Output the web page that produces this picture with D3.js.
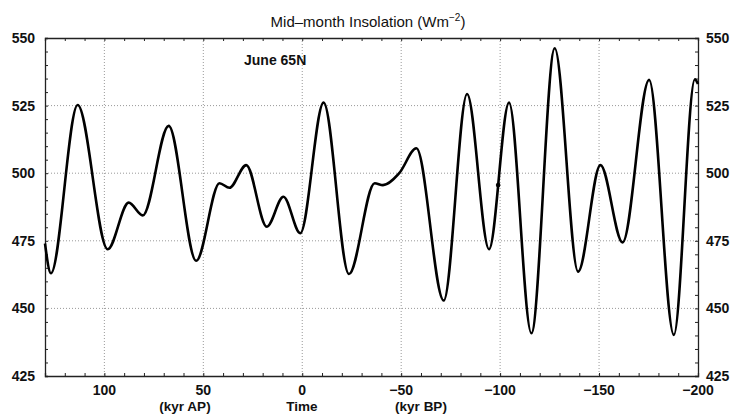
<!DOCTYPE html>
<html>
<head>
<meta charset="utf-8">
<script src="https://cdn.jsdelivr.net/npm/d3@7"></script>
<style>
  body { margin: 0; background: #fff; }
  text { font-family: "Liberation Sans", Arial, sans-serif; fill: #111; font-weight: bold; }
</style>
</head>
<body>
<div id="chart"></div>
<script>
const width = 732;
const height = 414;
const margin = { top: 38, right: 34, bottom: 38, left: 45 };

// time in kyr (positive = after present, negative = before present)
const kyr = [130, 127, 113.5, 98.3, 87.7, 80.6, 67.5, 53.6, 41.8, 36.8, 28.3, 17.9, 9.5, 1,
    -10.8, -23.6, -36.6, -40.8, -49, -57.7, -71.5, -83.3, -94.4, -104.5, -115.8, -127.6,
    -139.4, -150.7, -161.9, -175.3, -187.8, -198.4, -200];
// June 65N mid-month insolation (W m-2)
const insolation = [474, 463, 525.2, 471.9, 489.1, 484.4, 517.5, 467.6, 496.3, 494.6, 503, 480.2, 491.3, 477.8,
    526.1, 462.7, 496.3, 495.6, 500, 509.2, 452.9, 529.3, 471.9, 526.1, 440.8, 546.2,
    463.6, 503, 474.4, 534.5, 440.2, 534.7, 533];
// stray dot on the curve
const dotKyr = [-99];
const dotValue = [495.6];

const xTicks = [100, 50, 0, -50, -100, -150, -200];
const yTicks = [425, 450, 475, 500, 525, 550];
const xGrid = [100, 50, 0, -50, -100, -150];
const yGrid = [450, 475, 500, 525];

const xScale = d3.scaleLinear()
    .domain([130, -200])
    .range([margin.left, width - margin.right]);

const yScale = d3.scaleLinear()
    .domain([425, 550])
    .range([height - margin.bottom, margin.top]);

const svg = d3.select("#chart")
    .append("svg")
    .attr("width", width)
    .attr("height", height);

// dotted grid
svg.append("g").selectAll("line").data(xGrid).enter()
    .append("line")
    .attr("x1", d => xScale(d)).attr("x2", d => xScale(d))
    .attr("y1", margin.top).attr("y2", height - margin.bottom)
    .attr("stroke", "#999").attr("stroke-width", 1)
    .attr("stroke-dasharray", "1,2");

svg.append("g").selectAll("line").data(yGrid).enter()
    .append("line")
    .attr("x1", margin.left).attr("x2", width - margin.right)
    .attr("y1", d => yScale(d)).attr("y2", d => yScale(d))
    .attr("stroke", "#999").attr("stroke-width", 1)
    .attr("stroke-dasharray", "1,2");

// axes, ticks pointing inward
const minorX = d3.range(-200, 131, 10);
const minorY = d3.range(425, 551, 5);

const axisBottomG = svg.append("g")
    .attr("transform", `translate(0,${height - margin.bottom})`)
    .call(d3.axisBottom(xScale).tickValues(minorX).tickSize(-3).tickFormat(""));
const axisTopG = svg.append("g")
    .attr("transform", `translate(0,${margin.top})`)
    .call(d3.axisTop(xScale).tickValues(minorX).tickSize(-3).tickFormat(""));
const axisLeftG = svg.append("g")
    .attr("transform", `translate(${margin.left},0)`)
    .call(d3.axisLeft(yScale).tickValues(minorY).tickSize(-3).tickFormat(""));
const axisRightG = svg.append("g")
    .attr("transform", `translate(${width - margin.right},0)`)
    .call(d3.axisRight(yScale).tickValues(minorY).tickSize(-3).tickFormat(""));

[axisBottomG, axisTopG, axisLeftG, axisRightG].forEach(g => {
    g.select(".domain").attr("stroke", "#222").attr("stroke-width", 1.3);
    g.selectAll(".tick line").attr("stroke", "#222");
});

// tick labels
svg.append("g").selectAll("text").data(xTicks).enter()
    .append("text")
    .attr("x", d => xScale(d))
    .attr("y", height - margin.bottom + 19)
    .attr("text-anchor", "middle")
    .attr("font-size", 14)
    .text(d => d3.format("d")(d));

svg.append("g").selectAll("text").data(yTicks).enter()
    .append("text")
    .attr("x", margin.left - 10)
    .attr("y", d => yScale(d) + 5)
    .attr("text-anchor", "end")
    .attr("font-size", 14)
    .text(d => d);

svg.append("g").selectAll("text").data(yTicks).enter()
    .append("text")
    .attr("x", width - margin.right + 8)
    .attr("y", d => yScale(d) + 5)
    .attr("text-anchor", "start")
    .attr("font-size", 14)
    .text(d => d);

// axis captions
svg.append("text").attr("x", 185).attr("y", 411).attr("text-anchor", "middle")
    .attr("font-size", 13.5).text("(kyr AP)");
svg.append("text").attr("x", 302).attr("y", 411).attr("text-anchor", "middle")
    .attr("font-size", 13.5).text("Time");
svg.append("text").attr("x", 421).attr("y", 411).attr("text-anchor", "middle")
    .attr("font-size", 13.5).text("(kyr BP)");

// title
const title = svg.append("text")
    .attr("x", 368).attr("y", 27)
    .attr("text-anchor", "middle")
    .attr("font-weight", "normal")
    .style("font-weight", "normal")
    .attr("font-size", 15);
title.append("tspan").text("Mid\u2013month Insolation (Wm");
title.append("tspan").attr("dy", -6).attr("font-size", 10).text("\u22122");
title.append("tspan").attr("dy", 6).text(")");

svg.append("text").attr("x", 244).attr("y", 65)
    .attr("font-size", 14).text("June 65N");

// insolation curve
const points = kyr.map((k, i) => [k, insolation[i]]);
const line = d3.line()
    .x(d => xScale(d[0]))
    .y(d => yScale(d[1]))
    .curve(d3.curveMonotoneX);

svg.append("path")
    .datum(points)
    .attr("d", line)
    .attr("fill", "none")
    .attr("stroke", "#000")
    .attr("stroke-width", 2.6)
    .attr("stroke-linejoin", "round");

svg.append("g").selectAll("circle").data(dotKyr).enter()
    .append("circle")
    .attr("cx", d => xScale(d))
    .attr("cy", (d, i) => yScale(dotValue[i]))
    .attr("r", 2.3)
    .attr("fill", "#000");
</script>
</body>
</html>
